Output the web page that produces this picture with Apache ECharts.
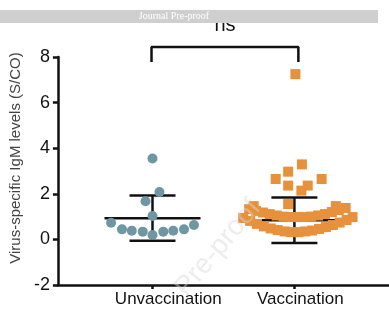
<!DOCTYPE html>
<html>
<head>
<meta charset="utf-8">
<script src="https://cdn.jsdelivr.net/npm/echarts@6/dist/echarts.min.js"></script>
<style>
  html, body { margin: 0; padding: 0; background: #fff; }
  #chart { width: 389px; height: 310px; }
</style>
</head>
<body>
<div id="chart"></div>
<script>
// groups on the x axis (1 = Unvaccination, 2 = Vaccination)
const groups = ['Unvaccination', 'Vaccination'];
const yTicks = [-2, 0, 2, 4, 6, 8];

// Unvaccination points (x = jittered group position, y = S/CO)
const unvacX = [1.0, 1.049, 0.951, 1.0, 0.708, 0.785, 0.854, 0.931, 1.0, 1.076, 1.146, 1.222, 1.292];
const unvacY = [3.55, 2.08, 1.67, 1.03, 0.73, 0.44, 0.38, 0.34, 0.19, 0.34, 0.38, 0.44, 0.63];

// Vaccination points
const vacX = [
  2.007, 2.053, 1.956, 1.868, 2.192, 1.956, 2.094, 2.049, 1.956, 1.713, 2.292,
  // upper arc
  1.681, 1.729, 1.778, 1.826, 1.875, 1.924, 1.972, 2.021, 2.069, 2.118, 2.167, 2.215, 2.264, 2.313, 2.361,
  // lower arc
  1.639, 1.688, 1.736, 1.785, 1.833, 1.882, 1.931, 1.979, 2.028, 2.076, 2.125, 2.174, 2.222, 2.271, 2.319, 2.368, 2.410
];
const vacY = [
  7.25, 3.29, 2.97, 2.65, 2.65, 2.36, 2.36, 2.14, 1.55, 1.46, 1.46,
  1.33, 1.25, 1.18, 1.11, 1.05, 1.00, 0.98, 0.98, 0.98, 1.00, 1.05, 1.11, 1.20, 1.29, 1.38,
  0.94, 0.81, 0.68, 0.57, 0.48, 0.41, 0.35, 0.32, 0.32, 0.35, 0.39, 0.46, 0.54, 0.63, 0.74, 0.85, 0.98
];

// mean and SD per group
const means = [0.93, 0.84];
const sds = [0.99, 1.0];

// significance bracket (x, y in data units)
const bracketX = [0.993, 0.993, 2.028, 2.028];
const bracketY = [7.78, 8.44, 8.44, 7.78];

const chart = echarts.init(document.getElementById('chart'));

const unvacData = unvacX.map((x, i) => [x, unvacY[i]]);
const vacData = vacX.map((x, i) => [x, vacY[i]]);
const errData = means.map((m, i) => [i + 1, m, sds[i]]);
const bracketData = bracketX.map((x, i) => [x, bracketY[i]]);

const option = {
  animation: false,
  grid: { left: 53, right: 0, top: 57, bottom: 25 },
  xAxis: {
    type: 'value',
    min: 1 / 3,
    max: 8 / 3,
    splitLine: { show: false },
    axisLine: { onZero: false, lineStyle: { color: '#111', width: 2.5 } },
    axisTick: { show: true, customValues: [1, 2], length: 4, lineStyle: { color: '#111', width: 2.5 } },
    axisLabel: {
      customValues: [1.111, 2.042],
      formatter: v => (v < 1.5 ? groups[0] : groups[1]),
      fontFamily: 'Liberation Sans',
      fontSize: 17,
      color: '#111',
      margin: 6
    }
  },
  yAxis: {
    type: 'value',
    min: -2,
    max: 8,
    interval: 2,
    name: 'Virus-specific IgM levels (S/CO)',
    nameLocation: 'middle',
    nameGap: 28,
    nameTextStyle: { fontFamily: 'Liberation Sans', fontSize: 15, color: '#444', padding: [0, 0, 0, 26] },
    splitLine: { show: false },
    axisLine: { show: true, lineStyle: { color: '#111', width: 2.5 } },
    axisTick: { show: true, length: 5, lineStyle: { color: '#111', width: 2.5 } },
    axisLabel: { fontFamily: 'Liberation Sans', fontSize: 18, color: '#111', margin: 8 }
  },
  series: [
    {
      type: 'custom',
      z: 1,
      data: errData,
      renderItem: (params, api) => {
        const x = api.value(0), m = api.value(1), s = api.value(2);
        const c = api.coord([x, m]);
        const t = api.coord([x, m + s]);
        const b = api.coord([x, m - s]);
        const st = { stroke: '#111', lineWidth: 2.5 };
        return {
          type: 'group',
          children: [
            { type: 'line', shape: { x1: c[0] - 48, y1: c[1], x2: c[0] + 48, y2: c[1] }, style: st },
            { type: 'line', shape: { x1: c[0], y1: t[1], x2: c[0], y2: b[1] }, style: st },
            { type: 'line', shape: { x1: c[0] - 23, y1: t[1], x2: c[0] + 23, y2: t[1] }, style: st },
            { type: 'line', shape: { x1: c[0] - 23, y1: b[1], x2: c[0] + 23, y2: b[1] }, style: st }
          ]
        };
      }
    },
    {
      name: groups[0],
      type: 'scatter',
      z: 3,
      symbol: 'circle',
      symbolSize: 10,
      itemStyle: { color: '#6F97A3', opacity: 1 },
      data: unvacData
    },
    {
      name: groups[1],
      type: 'scatter',
      z: 3,
      symbol: 'rect',
      symbolSize: 10,
      itemStyle: { color: '#E8913D', opacity: 1 },
      data: vacData
    },
    {
      type: 'line',
      clip: false,
      symbol: 'none',
      lineStyle: { color: '#111', width: 2.5 },
      data: bracketData
    }
  ],
  graphic: [
    {
      type: 'text',
      x: 225, y: 25,
      style: { text: 'ns', font: '20px "Liberation Sans"', fill: '#111', align: 'center', verticalAlign: 'middle' }
    },
    {
      type: 'rect',
      z: 100,
      shape: { x: 0, y: 10, width: 378, height: 13 },
      style: { fill: '#CFCFCF' }
    },
    {
      type: 'text',
      z: 101,
      x: 174, y: 16.5,
      style: { text: 'Journal Pre-proof', font: '10px "Liberation Serif"', fill: '#fff', align: 'center', verticalAlign: 'middle' }
    },
    {
      type: 'text',
      z: 50,
      x: 218, y: 248,
      rotation: 50 * Math.PI / 180,
      style: { text: 'Pre-proof', font: '28px "Liberation Sans"', fill: 'rgba(215,215,215,0.45)', align: 'center', verticalAlign: 'middle' }
    }
  ]
};

chart.setOption(option);
</script>
</body>
</html>
